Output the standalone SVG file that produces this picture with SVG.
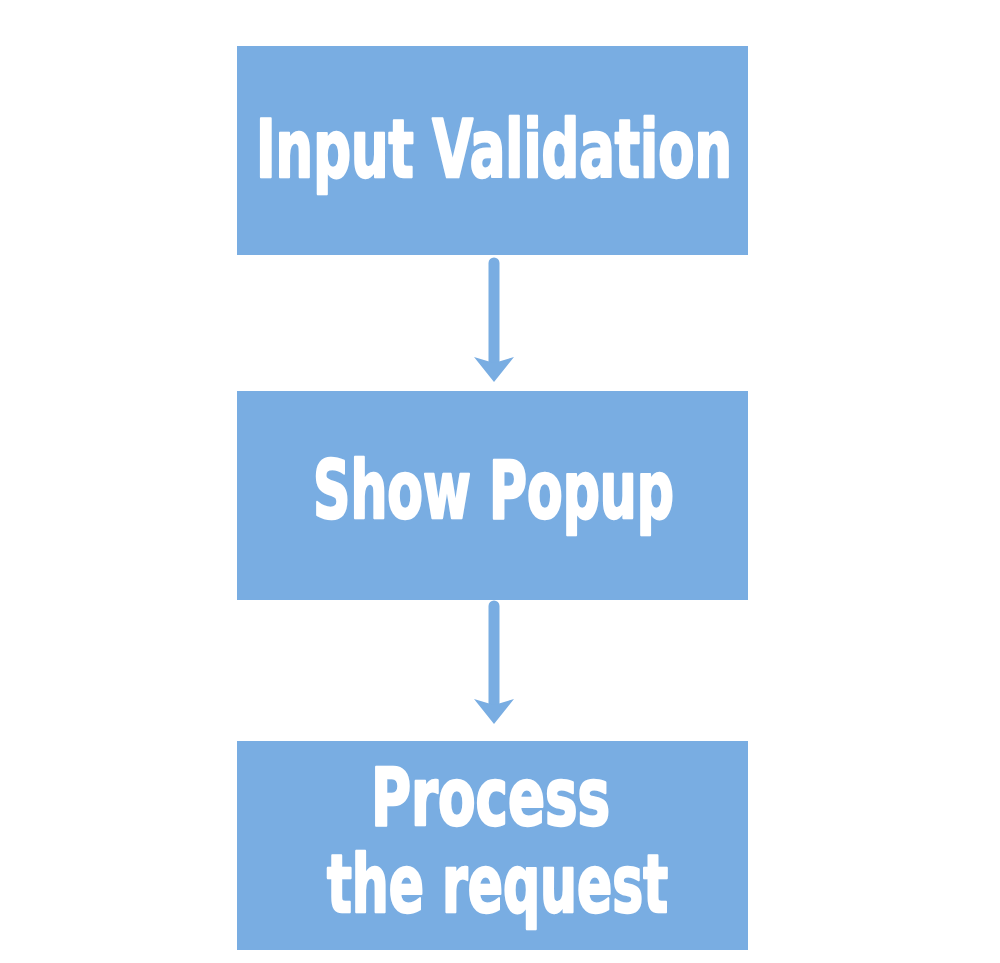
<svg xmlns="http://www.w3.org/2000/svg" width="1000" height="963" viewBox="0 0 1000 963">
<style>
.box{fill:#79ADE2;}
.lbl{font-family:"Liberation Sans Narrow","DejaVu Sans Condensed","Liberation Sans",sans-serif;font-weight:bold;font-size:81px;fill:#FFFFFF;stroke:#FFFFFF;stroke-width:2.5;stroke-linejoin:round;}
.conn{stroke:#79ADE2;stroke-width:11;stroke-linecap:round;fill:none;}
</style>
<defs>
<marker id="head" markerUnits="userSpaceOnUse" viewBox="0 -22 30 44" markerWidth="30" markerHeight="44" refX="7" refY="0" orient="auto">
<path d="M0,-20 L25,0 L0,20 L6,0 Z" fill="#79ADE2"/>
</marker>
</defs>
<rect width="1000" height="963" fill="#FFFFFF"/>
<g id="connectors">
<path class="conn" d="M494,263 L494,364" marker-end="url(#head)"/>
<path class="conn" d="M494,606 L494,706" marker-end="url(#head)"/>
</g>
<g id="node-input-validation">
<rect class="box" x="237" y="46" width="511" height="209"/>
<text class="lbl" x="256" y="177" textLength="476" lengthAdjust="spacingAndGlyphs">Input Validation</text>
</g>
<g id="node-show-popup">
<rect class="box" x="237" y="391" width="511" height="209"/>
<text class="lbl" x="313" y="518" textLength="361" lengthAdjust="spacingAndGlyphs">Show Popup</text>
</g>
<g id="node-process-request">
<rect class="box" x="237" y="741" width="511" height="209"/>
<text class="lbl" x="371" y="825" textLength="239" lengthAdjust="spacingAndGlyphs">Process</text>
<text class="lbl" x="327" y="912" textLength="341" lengthAdjust="spacingAndGlyphs">the request</text>
</g>
</svg>
